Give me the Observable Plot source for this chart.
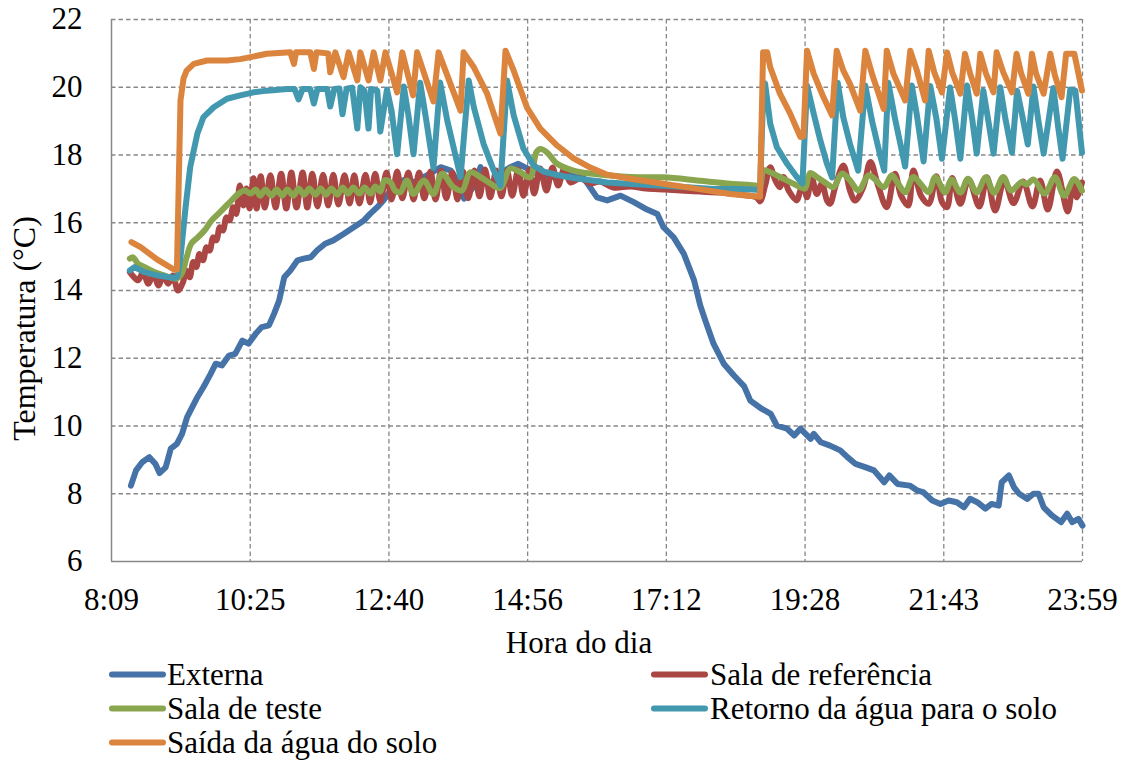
<!DOCTYPE html>
<html><head><meta charset="utf-8">
<script src="https://cdn.jsdelivr.net/npm/d3@7"></script>
<script src="https://cdn.jsdelivr.net/npm/@observablehq/plot@0.6"></script>
<style>
body{margin:0;background:#fff;}
#wrap{position:relative;width:1129px;height:760px;overflow:hidden;background:#fff;}
#wrap svg{display:block;}
#wrap svg text{font-family:'Liberation Serif','Times New Roman',serif;font-variant:normal;}
</style></head><body><div id="wrap"></div>
<script>
// ---- data: [minutes since midnight, °C] ----
const xTicks = [489, 624.714, 760.429, 896.143, 1031.857, 1167.571, 1303.286, 1439];
const xTickLabels = ["8:09","10:25","12:40","14:56","17:12","19:28","21:43","23:59"];
const yTicks = [6, 8, 10, 12, 14, 16, 18, 20, 22];
const seriesNames = ["Externa","Sala de referência","Sala de teste","Retorno da água para o solo","Saída da água do solo"];
const seriesColors = ["#4572A7","#AA4643","#89A54E","#4198AF","#DB843D"];

const externa = [[508,8.24],[513,8.69],[519,8.93],[526,9.08],[532,8.88],[536,8.61],[542,8.78],[547,9.33],[553,9.47],[558,9.77],[563,10.26],[568,10.56],[573,10.85],[579,11.15],[586,11.54],[591,11.84],[597,11.79],[604,12.08],[610,12.13],[617,12.52],[623,12.43],[630,12.72],[636,12.92],[643,12.97],[648,13.31],[653,13.70],[658,14.39],[664,14.59],[671,14.89],[677,14.94],[684,14.98],[690,15.18],[698,15.38],[706,15.48],[716,15.67],[726,15.87],[736,16.07],[742,16.26],[749,16.46],[755,16.66],[762,16.95],[768,17.15],[778,17.30],[788,17.15],[794,17.34],[803,17.49],[811,17.64],[821,17.54],[827,17.25],[834,16.71],[843,17.05],[850,17.64],[860,17.10],[869,17.45],[879,17.64],[887,17.74],[896,17.60],[905,17.45],[922,17.34],[935,17.45],[948,17.45],[964,16.75],[974,16.66],[987,16.80],[1000,16.61],[1013,16.39],[1023,16.26],[1029,15.87],[1039,15.57],[1049,15.08],[1059,14.30],[1065,13.56],[1070,13.11],[1078,12.43],[1088,11.84],[1098,11.49],[1108,11.17],[1114,10.75],[1124,10.53],[1134,10.36],[1140,10.01],[1150,9.92],[1157,9.72],[1163,9.92],[1173,9.62],[1176,9.77],[1183,9.52],[1192,9.42],[1202,9.28],[1209,9.08],[1217,8.88],[1227,8.78],[1235,8.69],[1245,8.34],[1250,8.54],[1258,8.29],[1270,8.24],[1277,8.10],[1283,8.05],[1292,7.80],[1300,7.70],[1308,7.80],[1316,7.75],[1323,7.60],[1329,7.85],[1336,7.75],[1344,7.56],[1350,7.70],[1357,7.65],[1360,8.34],[1367,8.54],[1372,8.19],[1377,8.00],[1385,7.85],[1391,8.00],[1396,8.00],[1401,7.60],[1409,7.36],[1418,7.16],[1424,7.41],[1429,7.16],[1435,7.26],[1439,7.06]];

const salaReferencia = [[507,14.54],[510.5,14.41],[515,14.30],[520,14.54],[525,14.20],[530,14.49],[535,14.15],[539.5,14.44],[544.5,14.20],[549,14.44],[554,14.00],[559,14.25],[562,14.59],[565.5,14.39],[569,14.84],[572,14.69],[575,15.08],[578.5,14.89],[582,15.28],[585,15.18],[588.5,15.57],[591.5,15.48],[595,15.87],[598,15.77],[601.5,16.16],[604.5,16.07],[608,16.46],[611,16.26],[614.5,17.10],[618,16.51],[621,17.01],[624,16.42],[628,17.31],[631,16.42],[635,17.37],[639,16.45],[644.5,17.40],[649.5,16.45],[655,17.45],[660,16.42],[665,17.48],[670,16.45],[676,17.48],[680.5,16.45],[685.5,17.45],[690.5,16.48],[696,17.42],[701,16.51],[706,17.42],[711,16.54],[717,17.40],[722,16.57],[726.5,17.40],[731.5,16.57],[737.5,17.42],[742,16.60],[747,17.45],[752,16.63],[758,17.48],[763,16.69],[768.5,17.51],[773.5,16.72],[779.5,17.48],[784.5,16.69],[790,17.48],[795,16.72],[801,17.51],[806,16.69],[811.5,17.54],[816.5,16.72],[822.5,17.48],[827.5,16.69],[833,17.51],[838,16.72],[844,17.54],[849,16.78],[854.5,17.57],[859.5,16.75],[865.5,17.54],[870.5,16.78],[876,17.54],[881,16.80],[887,17.57],[892,16.80],[898,17.57],[902.5,16.86],[908.5,17.60],[914.5,16.95],[920.5,17.63],[926,17.10],[932,17.60],[938,17.19],[947.5,17.31],[957.5,17.16],[967,17.22],[980,17.04],[996.5,17.07],[1012,17.01],[1031,16.98],[1045.5,16.95],[1065,16.92],[1084.5,16.89],[1104,16.83],[1120,16.75],[1123.5,16.63],[1128.5,17.10],[1133.5,17.64],[1138.5,17.25],[1143,17.05],[1146.5,17.35],[1151.5,16.95],[1159.5,16.66],[1163,16.95],[1166,17.05],[1169.5,16.75],[1174,17.35],[1179,16.85],[1184,17.15],[1189,16.66],[1192,16.56],[1197,17.05],[1205,17.69],[1211.5,16.95],[1216.5,16.66],[1224.5,17.05],[1231.5,17.79],[1239,17.10],[1247.5,16.46],[1255.5,17.45],[1261.5,16.80],[1268.5,16.51],[1273.5,17.54],[1281,16.80],[1288.5,16.56],[1296,17.37],[1301.5,16.61],[1306.5,16.46],[1311.5,17.32],[1319.5,16.56],[1327.5,17.28],[1338,16.48],[1345.5,17.34],[1353.5,16.36],[1362.5,17.25],[1371.5,16.58],[1381,17.22],[1390,16.48],[1397.5,17.25],[1405,16.39],[1414,17.51],[1424.5,16.33],[1430,17.25],[1433.5,16.75],[1438.5,17.19]];

const salaTeste = [[507,14.94],[510,14.98],[515,14.79],[521.5,14.69],[531.5,14.54],[541,14.44],[552.5,14.35],[557.5,14.49],[562.5,14.98],[567,15.38],[573.5,15.57],[580,15.77],[587,16.07],[593.5,16.26],[600,16.46],[606.5,16.66],[613,16.85],[619.5,16.95],[625,16.86],[630,16.98],[634.5,16.80],[639.5,16.98],[645.5,16.80],[650.5,16.98],[656,16.80],[661,16.98],[667,16.80],[672,17.01],[677.5,16.83],[682.5,17.01],[688.5,16.83],[693.5,17.01],[699,16.83],[704,17.01],[710,16.83],[715,17.04],[720.5,16.86],[725.5,17.04],[731.5,16.86],[736.5,17.04],[742.5,16.86],[747,17.07],[752,16.92],[756,17.25],[762,17.19],[766.5,16.95],[771.5,16.90],[778,17.25],[784.5,16.85],[794.5,17.25],[804,16.85],[812.5,17.45],[823.5,17.05],[832,16.95],[840,17.49],[850,17.35],[859.5,17.16],[869.5,17.03],[879,17.60],[889,17.49],[898.5,17.34],[904.5,18.07],[908.5,18.18],[915,18.08],[925,17.74],[941,17.54],[957.5,17.45],[974,17.40],[996.5,17.35],[1029,17.34],[1062,17.25],[1094.5,17.15],[1120.5,17.09],[1123.5,17.04],[1127,17.54],[1133.5,17.49],[1143,17.35],[1153,17.20],[1163,17.05],[1167.5,17.01],[1172.5,17.47],[1179,17.35],[1189,17.15],[1195.5,17.05],[1203.5,17.45],[1211.5,17.25],[1220,16.95],[1229.5,17.40],[1236,17.28],[1244.5,17.05],[1252.5,17.40],[1258.5,17.16],[1265.5,16.90],[1273.5,17.35],[1281,17.13],[1288.5,16.90],[1295,17.35],[1304.5,16.90],[1311,17.28],[1319.5,16.89],[1327,17.30],[1335.5,16.89],[1344.5,17.34],[1352.5,16.88],[1361.5,17.35],[1369,16.95],[1379.5,17.20],[1384.5,17.13],[1391,17.28],[1402,16.86],[1412,17.34],[1421,16.80],[1431,17.29],[1438.5,16.95]];

const retornoAgua = [[507,14.59],[511.5,14.69],[521.5,14.54],[534.5,14.44],[551,14.37],[553.5,14.41],[556.5,14.98],[561.5,16.46],[566,17.64],[573,18.63],[579,19.12],[589,19.41],[602,19.66],[615,19.76],[628,19.85],[641,19.90],[661,19.95],[668,19.95],[672,19.64],[676,19.95],[683.5,19.95],[687,19.52],[690.5,19.95],[700,19.95],[703,19.43],[707,19.95],[712,19.96],[715,19.20],[719,19.96],[724.5,19.99],[729.5,18.78],[732.5,20.00],[736.5,19.90],[740.5,18.78],[743,19.95],[749,19.90],[752,18.69],[758.5,19.93],[763,19.31],[768.5,18.02],[775,20.02],[779.5,19.17],[784.5,18.02],[791,20.13],[797,19.02],[804,17.62],[810.5,20.14],[817.5,19.02],[825.5,17.99],[830.5,17.35],[838.5,20.20],[843.5,19.41],[853,18.33],[863,17.54],[869.5,17.10],[876,20.20],[882.5,19.17],[892,18.19],[902,17.69],[912,17.51],[925,17.41],[941,17.32],[974,17.19],[1006,17.13],[1045.5,17.06],[1078,17.00],[1104,17.00],[1123.5,16.97],[1127,20.14],[1128.5,20.10],[1133.5,18.92],[1140,18.23],[1150,17.74],[1159.5,17.35],[1165,17.16],[1169.5,20.05],[1176,19.22],[1182.5,18.43],[1189,17.74],[1194,17.34],[1199.5,20.13],[1205,19.11],[1211.5,18.33],[1219.5,17.54],[1226.5,20.05],[1233,19.02],[1241,17.99],[1245,17.54],[1249,20.13],[1255.5,19.08],[1265.5,17.66],[1272,20.05],[1277,19.17],[1283.5,17.81],[1290,20.04],[1296,19.08],[1301.5,17.89],[1309.5,19.99],[1314.5,19.02],[1319.5,17.89],[1326,20.05],[1331,19.08],[1335.5,18.04],[1342,19.90],[1346.5,19.08],[1352,18.04],[1358.5,20.00],[1363.5,19.08],[1370,18.07],[1375,19.90],[1380,19.17],[1385.5,18.31],[1391,20.02],[1395.5,19.08],[1401,18.04],[1410.5,19.98],[1415,18.87],[1419.5,17.89],[1427,19.93],[1432,19.90],[1438.5,18.07]];

const saidaAgua = [[508.5,15.43],[517.5,15.28],[533.5,14.92],[550,14.62],[553,14.62],[556.5,19.61],[559.5,20.26],[562.5,20.49],[569.5,20.69],[582.5,20.79],[602,20.79],[615,20.83],[625,20.89],[641,20.99],[664,21.03],[667.5,20.69],[669.5,21.03],[683.5,21.03],[687,20.54],[689.5,21.03],[701,21.00],[703,20.44],[708,21.03],[716,20.30],[721,21.03],[729.5,20.20],[732.5,21.03],[740.5,20.20],[745.5,21.03],[752,20.20],[757,21.03],[768.5,19.85],[773.5,21.03],[784,19.76],[788,21.03],[804,19.58],[809,21.03],[830.5,19.31],[833.5,21.03],[843.5,20.59],[856.5,19.81],[869.5,18.63],[874.5,21.08],[882.5,20.49],[895.5,19.40],[908.5,18.78],[925,18.28],[941,17.90],[957.5,17.63],[974,17.42],[996.5,17.30],[1029,17.15],[1062,17.00],[1094.5,16.85],[1123.5,16.77],[1126.5,21.03],[1130.5,21.03],[1133.5,20.59],[1143,19.81],[1153,19.22],[1163,18.53],[1166,18.55],[1169.5,21.08],[1176,20.40],[1185.5,19.71],[1194,19.17],[1198.5,21.08],[1205,20.49],[1211.5,20.10],[1221.5,19.31],[1226.5,21.08],[1233,20.40],[1244.5,19.36],[1247.5,21.08],[1254,20.40],[1265.5,19.61],[1270.5,21.08],[1277,20.49],[1285,19.61],[1288.5,21.08],[1294,20.44],[1301.5,19.85],[1306.5,21.03],[1311.5,20.44],[1319.5,19.81],[1324,20.99],[1329,20.41],[1335.5,19.81],[1339,20.99],[1344.5,20.41],[1352,19.85],[1355,21.03],[1361.5,20.44],[1370,19.85],[1374.5,20.99],[1379,20.41],[1386,19.81],[1389.5,20.99],[1393.5,20.41],[1401,19.81],[1407.5,20.99],[1412,20.35],[1418.5,19.71],[1423,20.99],[1431,20.99],[1438.5,19.90]];

const seriesData = [externa, salaReferencia, salaTeste, retornoAgua, saidaAgua];
const seriesCurves = ["linear", "catmull-rom", "catmull-rom", "linear", "linear"];

// ---- chart ----
const FONT = "'Liberation Serif','Times New Roman',serif";
const xLabelOf = new Map(xTicks.map((v, i) => [v, xTickLabels[i]]));
const gridStyle = {stroke: "#888888", strokeOpacity: 1, strokeWidth: 1.3, strokeDasharray: "4.5,3"};

const chart = Plot.plot({
  width: 1129, height: 660,
  marginLeft: 111, marginRight: 47, marginTop: 19, marginBottom: 99,
  style: {fontFamily: FONT, fontSize: "31px", color: "#000", background: "#fff", overflow: "visible"},
  x: {domain: [xTicks[0], xTicks[xTicks.length - 1]]},
  y: {domain: [yTicks[0], yTicks[yTicks.length - 1]]},
  marks: [
    Plot.gridY(yTicks.slice(1), gridStyle),
    Plot.gridX(xTicks.slice(1), gridStyle),
    Plot.ruleX([xTicks[0]], {stroke: "#888888", strokeWidth: 1.5}),
    Plot.ruleY([yTicks[0]], {stroke: "#888888", strokeWidth: 1.5}),
    Plot.axisY(yTicks, {tickSize: 0, tickPadding: 29, label: null, fontSize: 31, fontFamily: FONT, fontVariant: "normal"}),
    Plot.axisX(xTicks, {tickSize: 0, tickPadding: 26, label: null, fontSize: 31, fontFamily: FONT, fontVariant: "normal", tickFormat: d => xLabelOf.get(d)}),
    ...seriesData.map((data, i) => Plot.line(data, {
      x: d => d[0], y: d => d[1], stroke: seriesColors[i], curve: seriesCurves[i],
      strokeWidth: 6, strokeLinejoin: "round", strokeLinecap: "round"
    })),
    Plot.text(["Temperatura (°C)"], {frameAnchor: "left", rotate: -90, dx: -77, dy: 38, lineAnchor: "bottom", textAnchor: "middle", fontSize: 32, fontFamily: FONT, fill: "#000"}),
    Plot.text(["Hora do dia"], {frameAnchor: "bottom", dx: -18, dy: 91, lineAnchor: "bottom", textAnchor: "middle", fontSize: 31, fontFamily: FONT, fill: "#000"})
  ]
});

const wrap = document.getElementById("wrap");
chart.style.position = "absolute";
chart.style.left = "0px";
chart.style.top = "0px";
wrap.appendChild(chart);

// ---- legend ----
const legendTop = 630;
const legendLayout = [
  {sx: 112, tx: 167, base: 685}, {sx: 654, tx: 710, base: 685},
  {sx: 112, tx: 167, base: 719}, {sx: 654, tx: 710, base: 719},
  {sx: 112, tx: 167, base: 753}
];
const leg = d3.create("svg").attr("width", 1129).attr("height", 760 - legendTop)
  .style("position", "absolute").style("left", "0px").style("top", legendTop + "px")
  .style("overflow", "visible");
seriesNames.forEach((name, i) => {
  const L = legendLayout[i];
  const b = L.base - legendTop;
  leg.append("line").attr("x1", L.sx).attr("x2", L.sx + 51)
    .attr("y1", b - 10.5).attr("y2", b - 10.5)
    .attr("stroke", seriesColors[i]).attr("stroke-width", 6).attr("stroke-linecap", "round");
  leg.append("text").attr("x", L.tx).attr("y", b)
    .attr("font-family", FONT).attr("font-size", 31).attr("fill", "#000").text(name);
});
wrap.appendChild(leg.node());
</script></body></html>
